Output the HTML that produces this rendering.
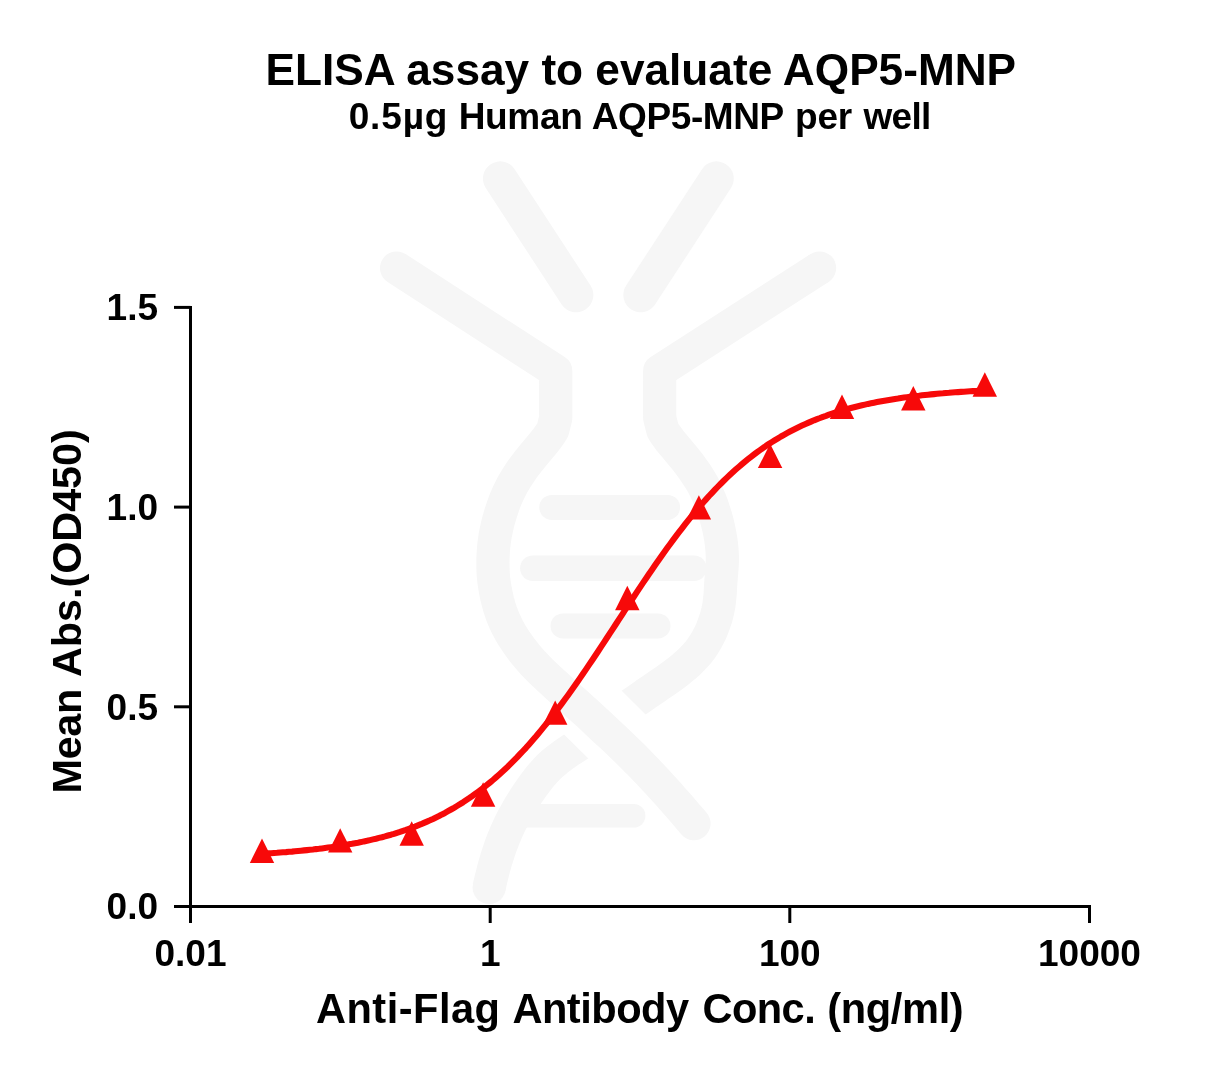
<!DOCTYPE html>
<html lang="en">
<head>
<meta charset="utf-8">
<title>ELISA assay to evaluate AQP5-MNP</title>
<style>
html,body{margin:0;padding:0;background:#fff;}
body{width:1217px;height:1075px;overflow:hidden;}
svg{display:block;}
text{font-family:"Liberation Sans",Arial,Helvetica,sans-serif;font-weight:bold;fill:#000;}
.tick{font-size:37px;}
.wm{fill:none;stroke:#f6f6f6;stroke-linecap:round;stroke-linejoin:round;}
</style>
</head>
<body>
<svg width="1217" height="1075" viewBox="0 0 1217 1075">
<rect width="1217" height="1075" fill="#fff"/>
<!-- watermark -->
<defs>
<clipPath id="cr"><polygon points="560.9,630.2 704.6,773.2 900,773 900,200 560,200"/></clipPath>
<clipPath id="cl"><polygon points="505.5,676.4 647.6,817.2 647,950 400,950 400,676"/></clipPath>
</defs>
<g class="wm">
<line x1="500.2" y1="178.6" x2="576.1" y2="295" stroke-width="34.5"/>
<line x1="716.5" y1="178.6" x2="640.6" y2="295" stroke-width="34.5"/>
<path d="M396.6,268 L555.7,371 L555.7,418 L552.8,429.9 L549.8,434.6 L546.6,439.0 L543.1,443.4 L539.6,447.6 L536.0,451.9 L532.5,456.1 L529.0,460.4 L525.6,464.8 L522.3,469.3 L519.2,473.9 L516.2,478.5 L513.3,483.3 L510.7,488.2 L508.3,493.1 L506.0,498.2 L504.0,503.4 L502.2,508.6 L500.5,513.9 L498.9,519.2 L497.5,524.6 L496.3,530.0 L495.2,535.4 L494.4,540.9 L493.7,546.4 L493.3,551.9 L493.0,557.5 L492.9,563.0 L493.0,568.6 L493.2,574.1 L493.7,579.6 L494.5,585.1 L495.4,590.6 L496.5,596.0 L497.8,601.4 L499.3,606.8 L501.0,612.0 L502.9,617.2 L505.1,622.3 L507.5,627.3 L510.2,632.2 L513.0,636.9 L516.1,641.6 L519.3,646.1 L522.6,650.6 L526.0,654.9 L529.6,659.2 L533.3,663.3 L537.1,667.3 L541.0,671.2 L545.0,675.0 L549.1,678.8 L553.2,682.6 L557.2,686.3 L561.3,690.1 L565.4,693.8 L569.5,697.5 L573.7,701.2 L577.8,704.9 L582.0,708.6 L586.1,712.3 L590.2,716.0 L594.3,719.8 L598.3,723.6 L602.3,727.4 L606.4,731.2 L610.4,734.9 L614.5,738.7 L618.5,742.5 L622.5,746.4 L626.5,750.2 L630.4,754.1 L634.4,758.0 L638.3,761.9 L642.1,765.9 L646.0,769.9 L649.8,773.9 L653.6,778.0 L657.4,782.0 L661.1,786.1 L664.8,790.2 L668.6,794.3 L672.2,798.5 L675.9,802.6 L679.6,806.8 L683.2,811.0 L686.8,815.2 L690.4,819.4 L694.0,823.6" stroke-width="33.2"/>
<path d="M819.6,268 L659.7,371 L659.7,418 L662.8,430.3 L666.1,435.3 L669.6,440.1 L673.4,444.7 L677.2,449.3 L681.1,453.9 L684.9,458.5 L688.6,463.2 L692.2,468.1 L695.6,473.0 L698.9,478.0 L702.0,483.1 L704.8,488.4 L707.4,493.8 L709.8,499.3 L711.9,504.9 L713.8,510.5 L715.6,516.2 L717.2,522.0 L718.6,527.8 L719.8,533.7 L720.8,539.6 L721.6,545.5 L722.1,551.5 L722.4,557.5 L722.3,563.5 L721.9,569.4 L721.4,575.4 L720.9,581.4 L720.5,587.4 L720.2,593.3 L719.6,599.3 L718.9,605.2 L717.7,611.1 L716.3,616.9 L714.4,622.6 L712.3,628.3 L709.9,633.8 L707.1,639.1 L704.1,644.3 L700.7,649.2 L697.0,653.9 L692.9,658.3 L688.7,662.5 L684.2,666.5 L679.6,670.3 L674.8,674.0 L670.0,677.5 L665.1,681.0 L660.2,684.3 L655.2,687.7 L650.3,691.1 L645.3,694.4 L640.4,697.9 L635.5,701.3 L630.6,704.7 L625.7,708.1 L620.7,711.5 L615.8,714.9" stroke-width="33.2" stroke-linecap="butt" clip-path="url(#cr)"/>
<circle cx="819.6" cy="268" r="16.6" fill="#f6f6f6" stroke="none"/>
<path d="M593.0,735.5 L589.0,738.2 L584.9,740.9 L580.8,743.5 L576.7,746.2 L572.5,748.8 L568.4,751.5 L564.4,754.3 L560.5,757.2 L556.6,760.2 L552.9,763.3 L549.3,766.6 L545.9,770.0 L542.6,773.7 L539.5,777.4 L536.5,781.2 L533.5,785.2 L530.7,789.2 L527.9,793.2 L525.2,797.3 L522.6,801.5 L520.0,805.6 L517.6,809.8 L515.2,814.1 L512.8,818.4 L510.6,822.7 L508.5,827.1 L506.5,831.5 L504.6,836.0 L502.8,840.5 L501.0,845.1 L499.4,849.7 L497.9,854.4 L496.4,859.0 L495.0,863.7 L493.7,868.4 L492.5,873.2 L491.3,877.9 L490.2,882.6 L489.2,887.4" stroke-width="33.2" stroke-linecap="butt" clip-path="url(#cl)"/>
<circle cx="489.2" cy="887.4" r="16.6" fill="#f6f6f6" stroke="none"/>
<line x1="551.8" y1="507.4" x2="667.6" y2="507.4" stroke-width="25"/>
<line x1="532.8" y1="568.2" x2="694" y2="568.2" stroke-width="25.4"/>
<line x1="563" y1="625.9" x2="658" y2="625.9" stroke-width="25"/>
<line x1="520" y1="815.8" x2="633.6" y2="815.8" stroke-width="23.6"/>
</g>
<!-- titles -->
<text x="640.8" y="84.8" text-anchor="middle" font-size="44.2">ELISA assay to evaluate AQP5-MNP</text>
<text y="128.8" font-size="37"><tspan x="348.7" style="letter-spacing:0.85px">0.5µg</tspan> <tspan x="458.7" style="letter-spacing:-0.33px">Human</tspan> <tspan x="591.8" style="letter-spacing:-0.4px">AQP5-MNP</tspan> <tspan x="795.1" style="letter-spacing:-0.2px">per</tspan> <tspan x="863.5" style="letter-spacing:-0.73px">well</tspan></text>
<!-- axes -->
<g stroke="#000" stroke-width="3" fill="none" stroke-linecap="butt">
<line x1="190.5" y1="305.9" x2="190.5" y2="908.0"/>
<line x1="189.0" y1="906.5" x2="1091.0" y2="906.5"/>
<line x1="190.5" y1="906.5" x2="190.5" y2="923"/>
<line x1="490.2" y1="906.5" x2="490.2" y2="923"/>
<line x1="789.8" y1="906.5" x2="789.8" y2="923"/>
<line x1="1089.5" y1="906.5" x2="1089.5" y2="923"/>
<line x1="174" y1="906.5" x2="190.5" y2="906.5"/>
<line x1="174" y1="706.8" x2="190.5" y2="706.8"/>
<line x1="174" y1="507.1" x2="190.5" y2="507.1"/>
<line x1="174" y1="307.4" x2="190.5" y2="307.4"/>
</g>
<g class="tick">
<text x="190.5" y="965.8" text-anchor="middle">0.01</text>
<text x="490.2" y="965.8" text-anchor="middle">1</text>
<text x="789.8" y="965.8" text-anchor="middle">100</text>
<text x="1089.5" y="965.8" text-anchor="middle">10000</text>
<text x="158" y="919.2" text-anchor="end">0.0</text>
<text x="158" y="719.5" text-anchor="end">0.5</text>
<text x="158" y="519.8" text-anchor="end">1.0</text>
<text x="158" y="320.1" text-anchor="end">1.5</text>
</g>
<text y="1023.3" font-size="41.6"><tspan x="315.9" style="letter-spacing:0.48px">Anti-Flag</tspan> <tspan x="512.4" style="letter-spacing:-0.5px">Antibody</tspan> <tspan x="702.4" style="letter-spacing:-0.55px">Conc.</tspan> <tspan x="827.2" style="letter-spacing:-0.35px">(ng/ml)</tspan></text>
<text transform="translate(81,800) rotate(-90)" y="0" font-size="41.4"><tspan x="6.6" style="letter-spacing:-0.4px">Mean</tspan> <tspan x="123" style="letter-spacing:-0.06px">Abs.(OD450)</tspan></text>
<!-- curve -->
<path d="M262.0,853.7 L265.0,853.6 L268.0,853.4 L271.0,853.2 L274.0,853.0 L277.0,852.8 L280.0,852.5 L283.0,852.3 L286.0,852.1 L289.0,851.8 L292.0,851.6 L295.0,851.3 L298.0,851.0 L301.0,850.7 L304.0,850.4 L307.0,850.1 L310.0,849.8 L313.0,849.5 L316.0,849.1 L319.0,848.8 L322.0,848.4 L325.0,848.0 L328.0,847.6 L331.0,847.2 L334.0,846.8 L337.0,846.3 L340.0,845.8 L343.0,845.4 L346.0,844.9 L349.0,844.3 L352.0,843.8 L355.0,843.2 L358.0,842.7 L361.0,842.1 L364.0,841.4 L367.0,840.8 L370.0,840.1 L373.0,839.4 L376.0,838.7 L379.0,837.9 L382.0,837.2 L385.0,836.4 L388.0,835.5 L391.0,834.7 L394.0,833.8 L397.0,832.8 L400.0,831.9 L403.0,830.9 L406.0,829.9 L409.0,828.8 L412.0,827.7 L415.0,826.6 L418.0,825.4 L421.0,824.2 L424.0,822.9 L427.0,821.6 L430.0,820.3 L433.0,818.9 L436.0,817.4 L439.0,816.0 L442.0,814.4 L445.0,812.9 L448.0,811.2 L451.0,809.5 L454.0,807.8 L457.0,806.0 L460.0,804.2 L463.0,802.3 L466.0,800.3 L469.0,798.3 L472.0,796.2 L475.0,794.1 L478.0,791.9 L481.0,789.6 L484.0,787.3 L487.0,784.9 L490.0,782.5 L493.0,780.0 L496.0,777.4 L499.0,774.7 L502.0,772.0 L505.0,769.2 L508.0,766.4 L511.0,763.4 L514.0,760.4 L517.0,757.4 L520.0,754.2 L523.0,751.0 L526.0,747.8 L529.0,744.4 L532.0,741.0 L535.0,737.6 L538.0,734.0 L541.0,730.4 L544.0,726.7 L547.0,723.0 L550.0,719.2 L553.0,715.3 L556.0,711.4 L559.0,707.4 L562.0,703.4 L565.0,699.3 L568.0,695.2 L571.0,691.0 L574.0,686.8 L577.0,682.5 L580.0,678.1 L583.0,673.8 L586.0,669.4 L589.0,664.9 L592.0,660.5 L595.0,656.0 L598.0,651.5 L601.0,646.9 L604.0,642.3 L607.0,637.8 L610.0,633.2 L613.0,628.6 L616.0,624.0 L619.0,619.4 L622.0,614.8 L625.0,610.2 L628.0,605.6 L631.0,601.0 L634.0,596.5 L637.0,591.9 L640.0,587.4 L643.0,582.9 L646.0,578.5 L649.0,574.0 L652.0,569.7 L655.0,565.3 L658.0,561.0 L661.0,556.7 L664.0,552.5 L667.0,548.3 L670.0,544.2 L673.0,540.1 L676.0,536.1 L679.0,532.2 L682.0,528.3 L685.0,524.4 L688.0,520.6 L691.0,516.9 L694.0,513.3 L697.0,509.7 L700.0,506.2 L703.0,502.7 L706.0,499.4 L709.0,496.0 L712.0,492.8 L715.0,489.6 L718.0,486.5 L721.0,483.5 L724.0,480.5 L727.0,477.6 L730.0,474.8 L733.0,472.0 L736.0,469.3 L739.0,466.7 L742.0,464.1 L745.0,461.6 L748.0,459.2 L751.0,456.8 L754.0,454.5 L757.0,452.3 L760.0,450.1 L763.0,448.0 L766.0,445.9 L769.0,443.9 L772.0,442.0 L775.0,440.1 L778.0,438.3 L781.0,436.5 L784.0,434.8 L787.0,433.1 L790.0,431.5 L793.0,430.0 L796.0,428.5 L799.0,427.0 L802.0,425.6 L805.0,424.2 L808.0,422.9 L811.0,421.6 L814.0,420.3 L817.0,419.1 L820.0,418.0 L823.0,416.8 L826.0,415.8 L829.0,414.7 L832.0,413.7 L835.0,412.7 L838.0,411.8 L841.0,410.9 L844.0,410.0 L847.0,409.1 L850.0,408.3 L853.0,407.5 L856.0,406.7 L859.0,406.0 L862.0,405.3 L865.0,404.6 L868.0,403.9 L871.0,403.3 L874.0,402.7 L877.0,402.1 L880.0,401.5 L883.0,400.9 L886.0,400.4 L889.0,399.9 L892.0,399.4 L895.0,398.9 L898.0,398.5 L901.0,398.0 L904.0,397.6 L907.0,397.2 L910.0,396.8 L913.0,396.4 L916.0,396.0 L919.0,395.7 L922.0,395.3 L925.0,395.0 L928.0,394.7 L931.0,394.4 L934.0,394.1 L937.0,393.8 L940.0,393.5 L943.0,393.3 L946.0,393.0 L949.0,392.8 L952.0,392.5 L955.0,392.3 L958.0,392.1 L961.0,391.9 L964.0,391.7 L967.0,391.5 L970.0,391.3 L973.0,391.1 L976.0,391.0 L979.0,390.8 L982.0,390.6 L984.8,390.5" fill="none" stroke="#f70909" stroke-width="6.1" stroke-linejoin="round"/>
<g fill="#f70909">
<polygon points="262.0,838.6 249.8,863.0 274.2,863.0"/>
<polygon points="340.2,828.2 328.0,852.6 352.4,852.6"/>
<polygon points="411.7,821.3 399.5,845.7 423.9,845.7"/>
<polygon points="483.1,782.3 470.9,806.7 495.3,806.7"/>
<polygon points="555.2,700.4 543.0,724.8 567.4,724.8"/>
<polygon points="627.3,585.8 615.1,610.2 639.5,610.2"/>
<polygon points="698.9,495.2 686.7,519.6 711.1,519.6"/>
<polygon points="770.1,443.7 757.9,468.1 782.3,468.1"/>
<polygon points="842.0,394.5 829.8,418.9 854.2,418.9"/>
<polygon points="913.3,386.1 901.1,410.5 925.5,410.5"/>
<polygon points="984.8,372.3 972.6,396.7 997.0,396.7"/>
</g>
</svg>
</body>
</html>
